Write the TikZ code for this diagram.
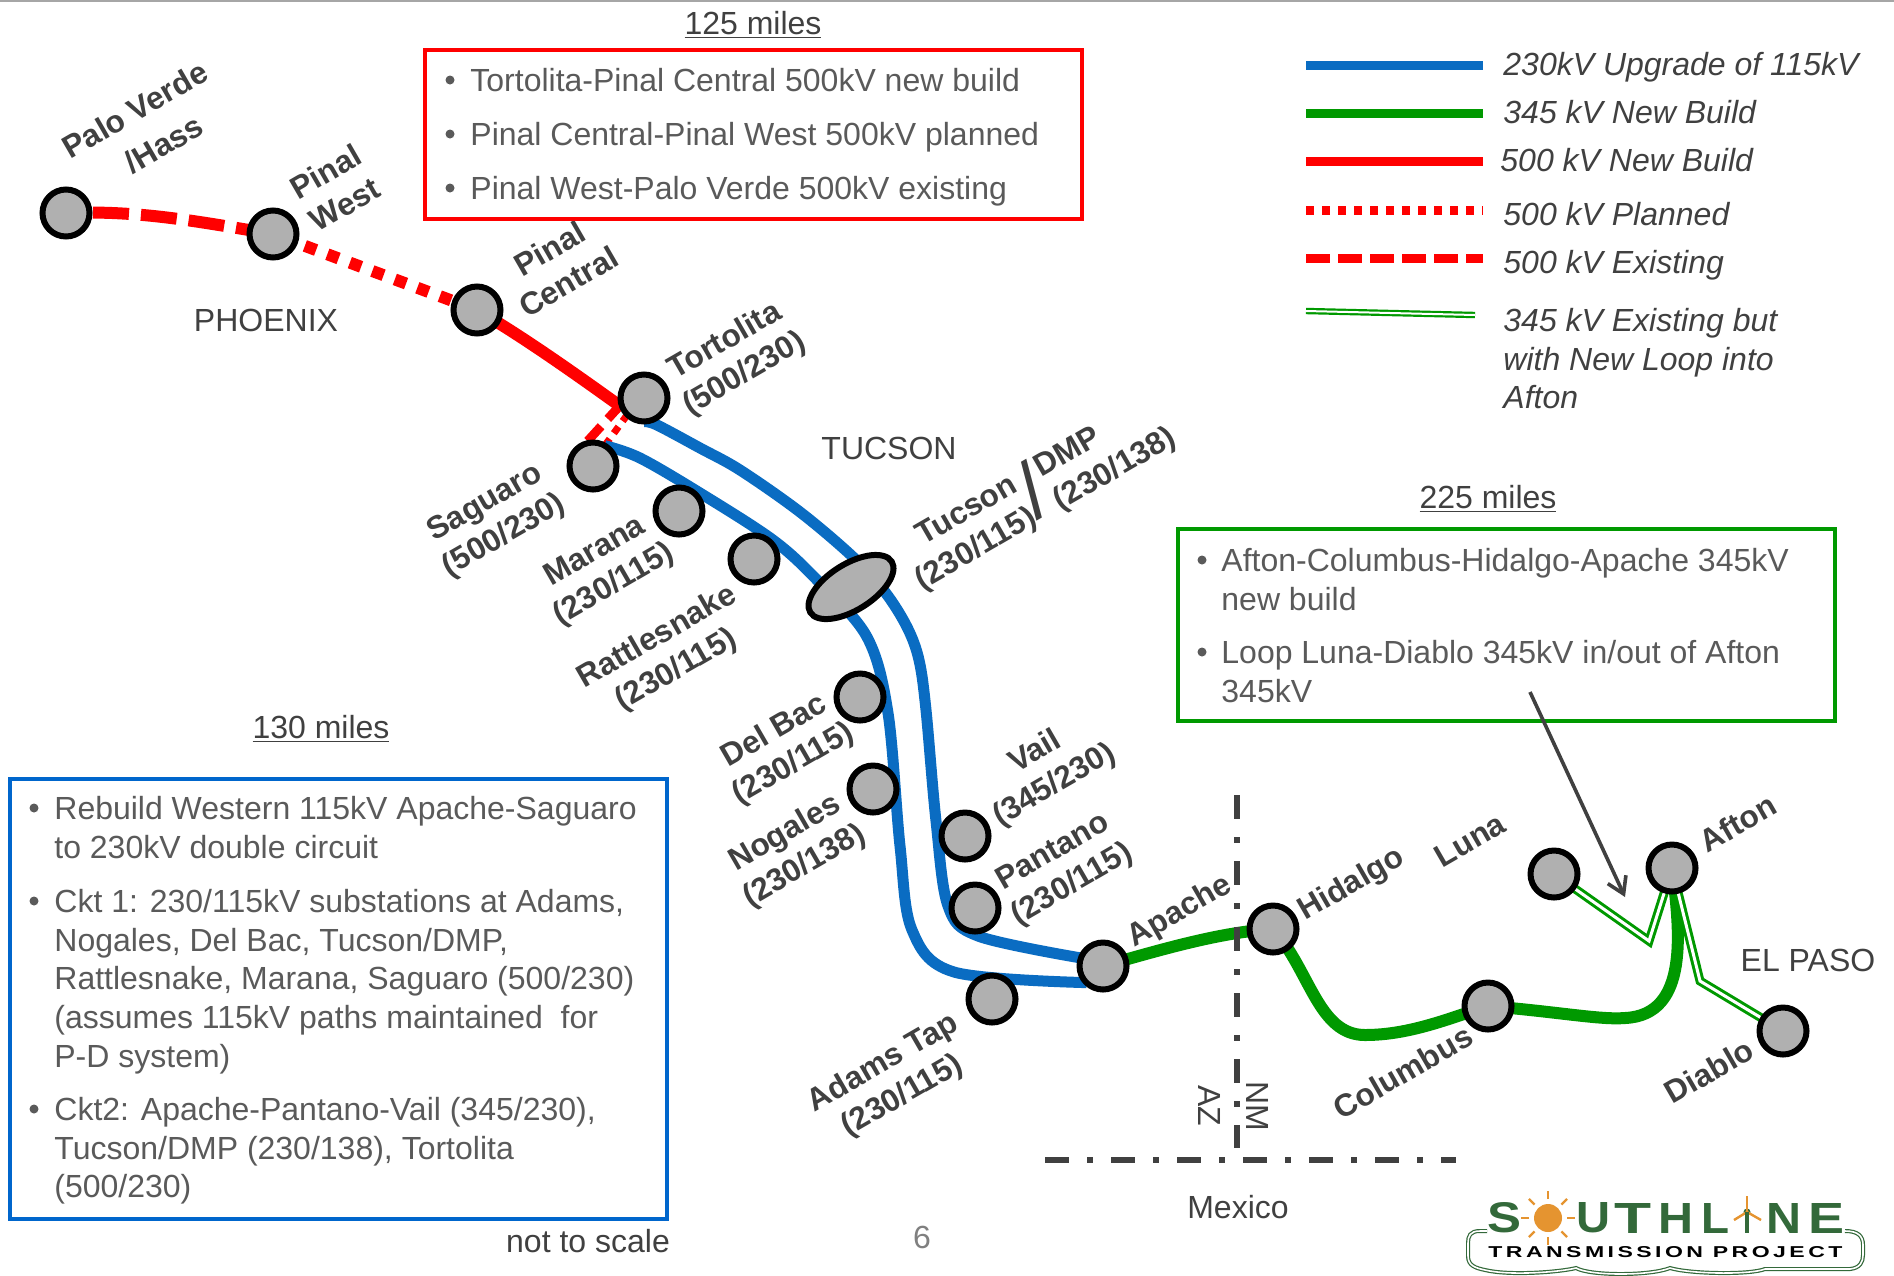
\documentclass[tikz,border=0pt]{standalone}
\usepackage{fontspec}
\usepackage{graphicx}
\setmainfont{Liberation Sans}
\usetikzlibrary{arrows.meta,backgrounds,shapes.geometric}
\definecolor{txt}{HTML}{404040}
\definecolor{bul}{HTML}{5A5A5A}
\definecolor{sub}{HTML}{B0B0B0}
\definecolor{bluel}{HTML}{0A6CC2}
\definecolor{greenl}{HTML}{009900}
\definecolor{redl}{HTML}{FF0000}
\definecolor{boxblue}{HTML}{0066CC}
\definecolor{logog}{HTML}{33693A}
\definecolor{sun}{HTML}{E59430}
\newcommand{\logoletter}[2]{\resizebox{#1}{15pt}{\bfseries #2}}
\tikzset{
  x=0.5pt,y=-0.5pt,
  station/.style={circle,draw=black,line width=3pt,fill=sub,minimum size=23.5pt,inner sep=0pt,outer sep=0pt},
  tap/.style={ellipse,draw=black,line width=3pt,fill=sub,minimum width=48pt,minimum height=23pt,inner sep=0pt,outer sep=0pt,rotate=32},
  lbl/.style={font=\fontsize{15.8}{19}\selectfont\bfseries,text=txt,rotate=30,align=center,inner sep=0pt},
  plain/.style={font=\fontsize{16}{19}\selectfont,text=txt,inner sep=0pt},
  para/.style={font=\fontsize{16}{19.3}\selectfont,text=bul,align=left,anchor=north west,inner sep=0pt},
  dotb/.style={circle,fill=bul,minimum size=4.5pt,inner sep=0pt},
  leg/.style={font=\fontsize{16}{19.3}\selectfont\itshape,text=txt,align=left,anchor=north west,inner sep=0pt},
  blue line/.style={draw=bluel,line width=5.5pt},
  green line/.style={draw=greenl,line width=6pt},
  red line/.style={draw=redl,line width=6pt},
  red dotted/.style={draw=redl,line width=6pt,dash pattern=on 6pt off 6pt},
  red dashed/.style={draw=redl,line width=6pt,dash pattern=on 18pt off 6pt},
  loopline/.style={draw=greenl,line width=1.5pt,double=white,double distance=1.5pt},
  border/.style={dash pattern=on 12pt off 9pt on 3pt off 9pt,draw=txt,line width=3pt},
  logolet/.style={anchor=west,inner sep=0pt,text=logog},
}
\begin{document}
\begin{tikzpicture}
\useasboundingbox (0,0) rectangle (1894,1275);
\draw[gray!70,line width=1pt] (0,1) -- (1894,1);

% stations
\node[station] (palo) at (66,213) {};
\node[station] (pwest) at (273,234) {};
\node[station] (pcent) at (477,310) {};
\node[station] (tort) at (644,398) {};
\node[station] (sag) at (593,466) {};
\node[station] (mar) at (679,511) {};
\node[station] (rat) at (754,559) {};
\node[tap] (tuc) at (851,587) {};
\node[station] (del) at (860,697) {};
\node[station] (nog) at (873,789) {};
\node[station] (vail) at (965,836) {};
\node[station] (pan) at (975,908) {};
\node[station] (adam) at (992,999) {};
\node[station] (apa) at (1103,966) {};
\node[station] (hid) at (1273,929) {};
\node[station] (col) at (1488,1006) {};
\node[station] (luna) at (1554,874) {};
\node[station] (afton) at (1672,868) {};
\node[station] (dia) at (1783,1031) {};

\begin{scope}[on background layer]
\fill[white] (0,0) rectangle (1894,1275);
\draw[red dashed,dash phase=10.5pt] (palo.center) .. controls (140,210) and (200,222) .. (pwest.center);
\draw[red dotted,dash phase=7pt] (pwest.center) -- (pcent.center);
\draw[red line] (pcent.center) .. controls (520,335) and (570,370) .. (tort.205);
\draw[draw=redl,line width=4.5pt,dash pattern=on 10pt off 5pt] (tort.195) -- (sag.110);
\draw[draw=redl,line width=3.5pt,dash pattern=on 4pt off 3.5pt] (tort.225) -- (sag.60);
\draw[blue line] plot[smooth,tension=0.55] coordinates {(tort.south) (657,425) (700,448) (740,470) (800,512) (853,557) (885,592) (907,627) (919,660) (926,710) (936,821) (948,906) (978,936) (apa.160)};
\draw[blue line] plot[smooth,tension=0.55] coordinates {(sag.60) (640,458) (700,493) (773,540) (817,580) (867,637) (888,713) (900,846) (912,930) (954,972) (apa.225)};
\draw[green line] (apa.center) .. controls (1160,950) and (1220,932) .. (hid.center);
\draw[green line] (hid.center) .. controls (1310,970) and (1318,1035) .. (1365,1035) .. controls (1410,1035) and (1450,1018) .. (col.center);
\draw[green line] (col.center) .. controls (1560,1012) and (1600,1020) .. (1625,1018) .. controls (1690,1015) and (1680,930) .. (afton.center);
\draw[loopline,line join=miter] (luna.center) -- (1649,941) -- (afton.center);
\draw[loopline,line join=miter] (afton.center) -- (1700,981) -- (dia.center);
\end{scope}

% labels
\node[lbl] (l1) at (146,129) {Palo Verde\\[3pt]\hspace*{8pt}/Hass};
\node[lbl] (l2) at (335,188) {Pinal\\West};
\node[lbl] (l3) at (559,265) {Pinal\\Central};
\node[lbl] (l4) at (735,358) {Tortolita\\(500/230)};
\node[lbl] (l5) at (495,520) {Saguaro\\(500/230)};
\node[lbl] (l6) at (605,569) {Marana\\(230/115)};
\node[lbl] (l7) at (667,654) {Rattlesnake\\(230/115)};
\node[lbl,align=right] (l8) at (967,534) {Tucson\\(230/115)};
\node[lbl,align=left] (l8b) at (1106,454) {DMP\\(230/138)};
\node[lbl,font=\fontsize{40}{40}\selectfont\mdseries] (l8c) at (1032,490) {/};
\node[lbl] (l9) at (784,748) {Del Bac\\(230/115)};
\node[lbl] (l10) at (795,850) {Nogales\\(230/138)};
\node[lbl] (l11) at (1045,769) {Vail\\(345/230)};
\node[lbl] (l12) at (1063,869) {Pantano\\(230/115)};
\node[lbl] (l13) at (893,1080) {Adams Tap\\(230/115)};
\node[lbl] (l14) at (1180,912) {Apache};
\node[lbl] (l15) at (1352,885) {Hidalgo};
\node[lbl] (l16) at (1470,840) {Luna};
\node[lbl] (l17) at (1738,823) {Afton};
\node[lbl] (l18) at (1403,1072) {Columbus};
\node[lbl] (l19) at (1709,1071) {Diablo};

\node[plain] (t1) at (266,320) {PHOENIX};
\node[plain] (t2) at (889,448) {TUCSON};
\node[plain] (t3) at (1808,960) {EL PASO};
\node[plain] (t4) at (1238,1207) {Mexico};
\node[plain] (t5) at (588,1241) {not to scale};
\node[plain,text=gray] (t6) at (922,1237) {6};
\node[plain,rotate=-90] (t7) at (1209,1106) {AZ};
\node[plain,rotate=-90] (t8) at (1257,1106) {NM};
\node[plain] (m1) at (753,25) {\underline{125 miles}};
\node[plain] (m2) at (1488,499) {\underline{225 miles}};
\node[plain] (m3) at (321,729) {\underline{130 miles}};

% border lines
\coordinate (bv1) at (1237,795);
\coordinate (bv2) at (1237,1148);
\coordinate (bh1) at (1045,1160);
\coordinate (bh2) at (1456,1160);
\draw[border] (bv1) -- (bv2);
\draw[border] (bh1) -- (bh2);

% boxes
\node[draw=redl,line width=2pt,minimum width=328.5pt,minimum height=84.5pt,inner sep=0pt] (rb) at (753.5,134.5) {};
\node[draw=greenl,line width=2pt,minimum width=328.5pt,minimum height=96pt,inner sep=0pt] (gb) at (1506.5,625) {};
\node[draw=boxblue,line width=2pt,minimum width=328.5pt,minimum height=220pt,inner sep=0pt] (bb) at (338.5,999) {};

\node[dotb] (r0) at (450,80) {}; \node[para] (r1) at (470,68) {Tortolita-Pinal Central 500kV new build};
\node[dotb] (r2) at (450,134) {}; \node[para] (r3) at (470,122) {Pinal Central-Pinal West 500kV planned};
\node[dotb] (r4) at (450,188) {}; \node[para] (r5) at (470,176) {Pinal West-Palo Verde 500kV existing};

\node[dotb] (g0) at (1202,560) {}; \node[para] (g1) at (1221,548) {Afton-Columbus-Hidalgo-Apache 345kV\\new build};
\node[dotb] (g2) at (1202,652) {}; \node[para] (g3) at (1221,640) {Loop Luna-Diablo 345kV in/out of Afton\\345kV};

\node[dotb] (b0) at (34,808) {}; \node[para] (b1) at (54,796) {Rebuild Western 115kV Apache-Saguaro\\to 230kV double circuit};
\node[dotb] (b2) at (34,901) {}; \node[para] (b3) at (54,889) {Ckt 1: 230/115kV substations at Adams,\\Nogales, Del Bac, Tucson/DMP,\\Rattlesnake, Marana, Saguaro (500/230)\\(assumes 115kV paths maintained\ \ for\\P-D system)};
\node[dotb] (b4) at (34,1109) {}; \node[para] (b5) at (54,1097) {Ckt2: Apache-Pantano-Vail (345/230),\\Tucson/DMP (230/138), Tortolita\\(500/230)};

% arrow
\coordinate (ar1) at (1530,692);
\coordinate (ar2) at (1625,897);
\draw[draw=txt,line width=1.8pt,-{Straight Barb[length=8pt,width=10pt,line width=1.8pt]}] (ar1) -- (ar2);

% legend
\foreach \n/\ya in {a/65,b/113.5,c/161,d/210,e/258.5}{\coordinate (lg\n1) at (1306,\ya); \coordinate (lg\n2) at (1483,\ya);}
\draw[blue line,line width=4.5pt] (lga1) -- (lga2);
\draw[green line,line width=4.5pt] (lgb1) -- (lgb2);
\draw[red line,line width=4.5pt] (lgc1) -- (lgc2);
\draw[red dotted,line width=4.5pt,dash pattern=on 4pt off 4pt] (lgd1) -- (lgd2);
\draw[red dashed,line width=4.5pt,dash pattern=on 12pt off 4pt] (lge1) -- (lge2);
\coordinate (lgf1) at (1306,311); \coordinate (lgf2) at (1475,315);
\draw[draw=greenl,line width=1.1pt,double=white,double distance=1pt] (lgf1) -- (lgf2);
\node[leg] (k1) at (1503,52) {230kV Upgrade of 115kV};
\node[leg] (k2) at (1503,100) {345 kV New Build};
\node[leg] (k3) at (1500,148) {500 kV New Build};
\node[leg] (k4) at (1503,202) {500 kV Planned};
\node[leg] (k5) at (1503,250) {500 kV Existing};
\node[leg] (k6) at (1503,308) {345 kV Existing but\\with New Loop into\\Afton};

% logo
\node[logolet] (ls) at (1487,1218) {\logoletter{17pt}{S}};
\node[logolet] (lu) at (1576,1218) {\logoletter{17pt}{U}};
\node[logolet] (lt2) at (1614,1218) {\logoletter{18.5pt}{T}};
\node[logolet] (lh) at (1658,1218) {\logoletter{17.5pt}{H}};
\node[logolet] (ll) at (1701,1218) {\logoletter{14pt}{L}};
\node[logolet] (ln) at (1766,1218) {\logoletter{17.5pt}{N}};
\node[logolet] (le) at (1808,1218) {\logoletter{18pt}{E}};
\node[circle,fill=sun,minimum size=14pt,inner sep=0pt] (sunc) at (1548,1218) {};
\foreach \a in {0,45,...,315}{\draw[sun,line width=1.2pt] (sunc)++(\a:19) -- ++(\a:8);}
\node[circle,fill=logog,minimum size=3.5pt,inner sep=0pt] (hub) at (1747,1212) {};
\draw[sun,line width=1.2pt] (1747,1196) -- (hub.center);
\draw[sun,line width=1.2pt] (1734,1220) -- (hub.center) -- (1761,1220);
\draw[logog,line width=1.6pt] (hub.center) -- (1747,1233);
\node[anchor=west,inner sep=0pt,text=black] (lt) at (1488,1252) {\resizebox{177pt}{5.5pt}{\addfontfeatures{LetterSpace=15}\bfseries TRANSMISSION PROJECT}};
\draw[logog,line width=.6pt,double=white,double distance=.8pt] (1487,1231) -- (1480,1231) .. controls (1470,1231) and (1468,1236) .. (1468,1243) -- (1468,1256) .. controls (1468,1266) and (1476,1268) .. (1485,1270) .. controls (1510,1276) and (1560,1272) .. (1576,1268) .. controls (1590,1276) and (1650,1276) .. (1670,1268) .. controls (1690,1274) and (1750,1275) .. (1765,1269) -- (1850,1269) .. controls (1860,1268) and (1863,1262) .. (1863,1255) -- (1863,1245) .. controls (1863,1236) and (1858,1231) .. (1845,1231);
\end{tikzpicture}
\end{document}
